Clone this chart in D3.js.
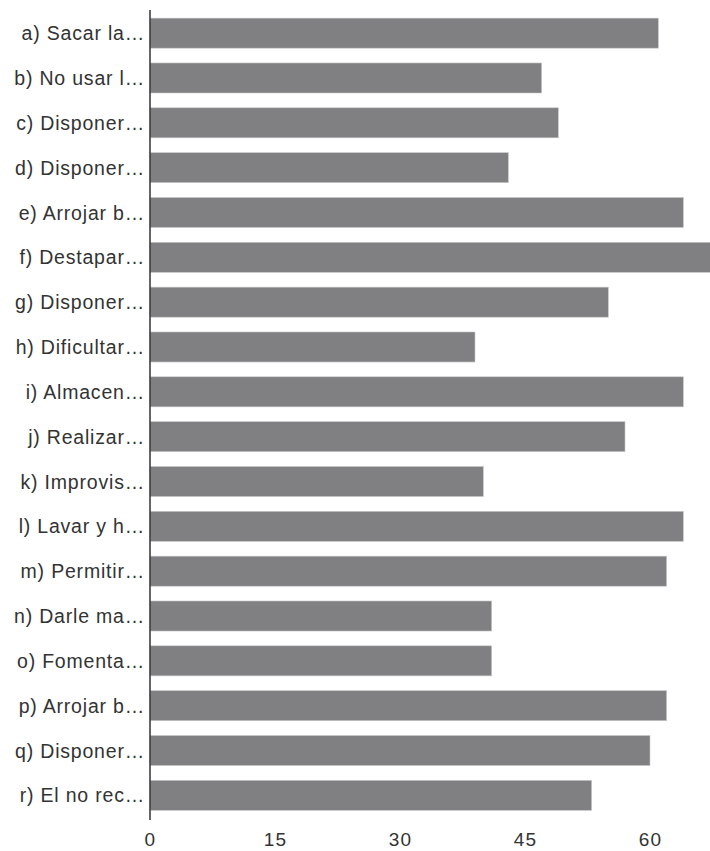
<!DOCTYPE html>
<html><head><meta charset="utf-8">
<script src="https://cdn.jsdelivr.net/npm/d3@7"></script>
<style>html,body{margin:0;padding:0;background:#fff;overflow:hidden}</style>
</head><body>
<script>
const categories = ["a) Sacar la…","b) No usar l…","c) Disponer…","d) Disponer…","e) Arrojar b…","f) Destapar…","g) Disponer…","h) Dificultar…","i) Almacen…","j) Realizar…","k) Improvis…","l) Lavar y h…","m) Permitir…","n) Darle ma…","o) Fomenta…","p) Arrojar b…","q) Disponer…","r) El no rec…"];
const values = [61,47,49,43,64,68,55,39,64,57,40,64,62,41,41,62,60,53];
const tickValues = [0,15,30,45,60];

const W = 710, H = 851;
const svg = d3.select("body").append("svg").attr("width", W).attr("height", H);
const x = d3.scaleLinear().domain([0, 67.2]).range([150, 710]);
const y = d3.scaleBand().domain(categories).range([10.5, 818]).paddingInner(0.33).paddingOuter(0.17);

svg.append("g").selectAll("rect").data(values).join("rect")
  .attr("x", x(0)).attr("y", (d,i) => y(categories[i]))
  .attr("width", d => x(d) - x(0)).attr("height", y.bandwidth())
  .attr("fill", "#808083").attr("stroke", "#c8c8ca").attr("stroke-width", 0.6);

const yAxis = svg.append("g").attr("transform", `translate(${x(0)},0)`)
  .call(d3.axisLeft(y).tickSize(0).tickPadding(5));
yAxis.select(".domain").attr("d", `M0,10V820`).attr("stroke", "#333").attr("stroke-width", 1.5);
yAxis.selectAll("text").attr("font-family", "Liberation Sans, Arial, sans-serif").attr("font-size", 19.5)
  .attr("letter-spacing", 0.8).attr("fill", "#333").attr("dy", "0.36em");

const xAxis = svg.append("g").attr("transform", `translate(0,829)`)
  .call(d3.axisBottom(x).tickValues(tickValues).tickSize(0).tickPadding(3));
xAxis.select(".domain").remove();
xAxis.selectAll("text").attr("font-family", "Liberation Sans, Arial, sans-serif").attr("font-size", 19)
  .attr("letter-spacing", 1.2).attr("fill", "#333");
</script>
</body></html>
